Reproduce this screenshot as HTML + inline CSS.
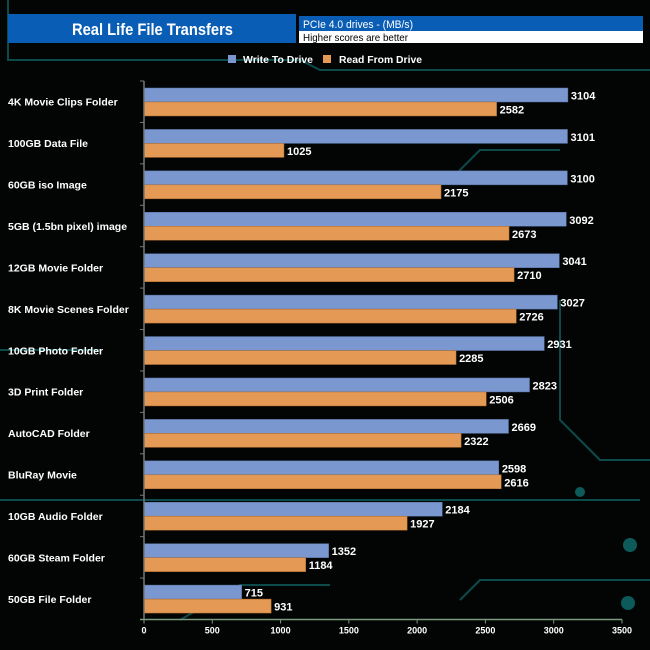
<!DOCTYPE html>
<html><head><meta charset="utf-8"><style>
body{margin:0;background:#000;}
svg{display:block;font-family:"Liberation Sans",Arial,sans-serif;}
</style></head><body>
<svg id="c" width="650" height="650" viewBox="0 0 650 650">
<rect width="650" height="650" fill="#030505"/>
<g stroke="#0d4a4a" stroke-width="2" fill="none">
<path d="M8 0 V60 H300 L320 70 H650"/>
<path d="M0 500 H640"/>
<path d="M180 620 L240 585 H330"/>
<path d="M460 600 L480 580 H650"/>
<path d="M560 300 V420 L600 460 H650"/>
<path d="M350 180 H450 L480 150 H560"/>
<path d="M0 350 H100"/>
</g>
<g fill="#0d5a5a">
<circle cx="630" cy="545" r="7"/><circle cx="628" cy="603" r="7"/><circle cx="580" cy="492" r="5"/>
</g>
<rect x="8" y="14" width="288" height="29" fill="#0a5db5"/>
<text x="72" y="35" fill="#fff" font-size="17" font-weight="bold" textLength="161" lengthAdjust="spacingAndGlyphs">Real Life File Transfers</text>
<rect x="299" y="16" width="344" height="15" fill="#0a5db5"/>
<rect x="299" y="31" width="344" height="12" fill="#fff"/>
<text x="303" y="28" fill="#fff" font-size="11" textLength="110" lengthAdjust="spacingAndGlyphs">PCIe 4.0 drives - (MB/s)</text>
<text x="303" y="41" fill="#000" font-size="10.5" textLength="105" lengthAdjust="spacingAndGlyphs">Higher scores are better</text>
<g>
<rect x="228" y="55" width="8" height="8" fill="#7b97d0"/>
<text x="243" y="63" fill="#fff" font-size="10" font-weight="bold" textLength="70" lengthAdjust="spacingAndGlyphs">Write To  Drive</text>
<rect x="323" y="55" width="8" height="8" fill="#e49a54"/>
<text x="339" y="63" fill="#fff" font-size="10" font-weight="bold" textLength="83" lengthAdjust="spacingAndGlyphs">Read From  Drive</text>
</g>
<g id="plot"></g>
</svg>
<script>
const categories=["4K Movie Clips Folder","100GB Data File","60GB iso Image","5GB (1.5bn pixel) image","12GB Movie Folder","8K Movie Scenes Folder","10GB Photo Folder","3D Print Folder","AutoCAD Folder","BluRay Movie","10GB Audio Folder","60GB Steam Folder","50GB File Folder"];
const writeValues=[3104,3101,3100,3092,3041,3027,2931,2823,2669,2598,2184,1352,715];
const readValues=[2582,1025,2175,2673,2710,2726,2285,2506,2322,2616,1927,1184,931];
const xTicks=[0,500,1000,1500,2000,2500,3000,3500];
const NS="http://www.w3.org/2000/svg";
const x0=144,x1=622,yTop=81,yBot=619.5,xMax=3500;
const band=(yBot-yTop)/categories.length;
function xs(v){return x0+(v/xMax)*(x1-x0);}
function yb(i){return yTop+i*band;}
const g=document.getElementById('plot');
function mk(t,a){const e=document.createElementNS(NS,t);for(const k in a)e.setAttribute(k,a[k]);g.appendChild(e);return e;}
categories.forEach((c,i)=>{
 const y=yb(i);
 const w=mk('rect',{x:x0,y:y+7,width:xs(writeValues[i])-x0,height:14,fill:'#7b97d0',stroke:'#55709f','stroke-width':0.5});
 
 
 const r=mk('rect',{x:x0,y:y+21,width:xs(readValues[i])-x0,height:14,fill:'#e49a54',stroke:'#a8672c','stroke-width':0.5});
 
 
 const tw=mk('text',{x:xs(writeValues[i])+3,y:y+18.5,fill:'#fff','font-size':11,'font-weight':'bold'});tw.textContent=writeValues[i];
 
 
 const tr=mk('text',{x:xs(readValues[i])+3,y:y+32.5,fill:'#fff','font-size':11,'font-weight':'bold'});tr.textContent=readValues[i];
 
 
 const tc=mk('text',{x:8,y:y+band/2+4,fill:'#fff','font-size':10.5,'font-weight':'bold'});tc.textContent=c;
 
 
 const tk=mk('line',{x1:x0-4,x2:x0,y1:y,y2:y,stroke:'#777'});
 
 
});
const ya=mk('line',{x1:x0,x2:x0,y1:yTop,y2:yBot,stroke:'#777','stroke-width':1.5});


const xa=mk('line',{x1:x0-4,x2:x1,y1:yBot,y2:yBot,stroke:'#7d9a7d','stroke-width':1.5});


xTicks.forEach(v=>{
 const l=mk('line',{x1:xs(v),x2:xs(v),y1:yBot,y2:yBot+4,stroke:'#7d9a7d'});
 
 
 const t=mk('text',{x:xs(v),y:yBot+14,fill:'#fff','font-size':9,'font-weight':'bold','text-anchor':'middle'});t.textContent=v;
 
 
});
</script>
</body></html>
